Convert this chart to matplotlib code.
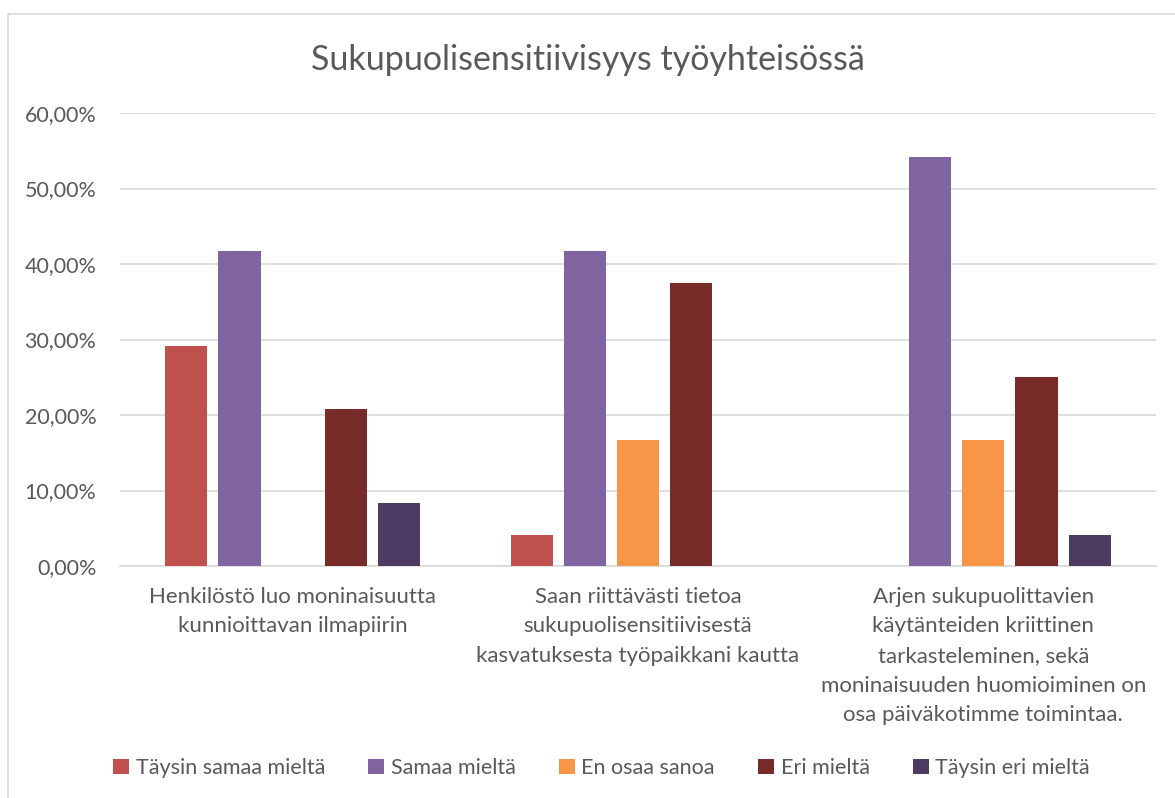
import matplotlib.pyplot as plt
import numpy as np
from matplotlib.patches import Rectangle
from matplotlib.ticker import FuncFormatter

# ============================================================
# Data
# ============================================================

categories = [
    "Henkilöstö luo moninaisuutta\nkunnioittavan ilmapiirin",
    "Saan riittävästi tietoa\nsukupuolisensitiivisestä\nkasvatuksesta työpaikkani kautta",
    "Arjen sukupuolittavien\nkäytänteiden kriittinen\ntarkasteleminen, sekä\nmoninaisuuden huomioiminen on\nosa päiväkotimme toimintaa.",
]

series_names = ["Täysin samaa mieltä", "Samaa mieltä", "En osaa sanoa",
                "Eri mieltä", "Täysin eri mieltä"]

taysin_samaa = [0.2917, 0.0417, 0.0]
samaa = [0.4167, 0.4167, 0.5417]
en_osaa = [0.0, 0.1667, 0.1667]
eri = [0.2083, 0.375, 0.25]
taysin_eri = [0.0833, 0.0, 0.0417]

colors = ["#C0504D", "#8064A2", "#F79646", "#772C2A", "#4D3B62"]

# ============================================================
# Plot
# ============================================================

plt.rcParams["font.family"] = ["Lato", "DejaVu Sans"]
text_color = "#595959"

fig = plt.figure(figsize=(11.75, 7.98), dpi=100)
fig.patches.append(Rectangle((8 / 1175, -0.05), 1.2, 1.05 - 14 / 798,
                             transform=fig.transFigure, fill=False,
                             edgecolor="#D9D9D9", linewidth=1.2))

ax = fig.add_axes([120 / 1175, 1 - 566 / 798, (1156 - 120) / 1175, (566 - 113) / 798])

all_series = [taysin_samaa, samaa, en_osaa, eri, taysin_eri]
x = np.arange(len(categories))
bar_w = 0.122
step = 0.154

for i, (vals, name, col) in enumerate(zip(all_series, series_names, colors)):
    offset = (i - 2) * step
    ax.bar(x + offset, vals, width=bar_w, color=col, label=name, zorder=3)

ax.set_xlim(-0.5, 2.5)
ax.set_ylim(0, 0.6)
ax.set_yticks(np.arange(0, 0.61, 0.1))
ax.yaxis.set_major_formatter(FuncFormatter(lambda v, p: f"{v*100:.2f}%".replace(".", ",")))
ax.grid(axis="y", color="#D9D9D9", linewidth=1.2, zorder=0)
for s in ["top", "right", "left"]:
    ax.spines[s].set_visible(False)
ax.spines["bottom"].set_color("#D9D9D9")
ax.spines["bottom"].set_linewidth(1.2)
ax.tick_params(axis="both", length=0, colors=text_color, labelsize=15.5)
ax.tick_params(axis="y", pad=17)

ax.set_xticks(x)
ax.set_xticklabels(categories, fontsize=16, color=text_color, va="top", linespacing=1.6)
ax.tick_params(axis="x", pad=15)

fig.text(0.5, 1 - 60 / 798, "Sukupuolisensitiivisyys työyhteisössä",
         ha="center", va="center", fontsize=24.5, color=text_color)

leg = fig.legend(loc="center", bbox_to_anchor=(0.512, 1 - 768 / 798), ncol=5,
                 frameon=False, fontsize=15.5, handlelength=0.75, handleheight=0.75,
                 handletextpad=0.3, columnspacing=2.0)
for t in leg.get_texts():
    t.set_color(text_color)

plt.savefig("out.png", dpi=100)
